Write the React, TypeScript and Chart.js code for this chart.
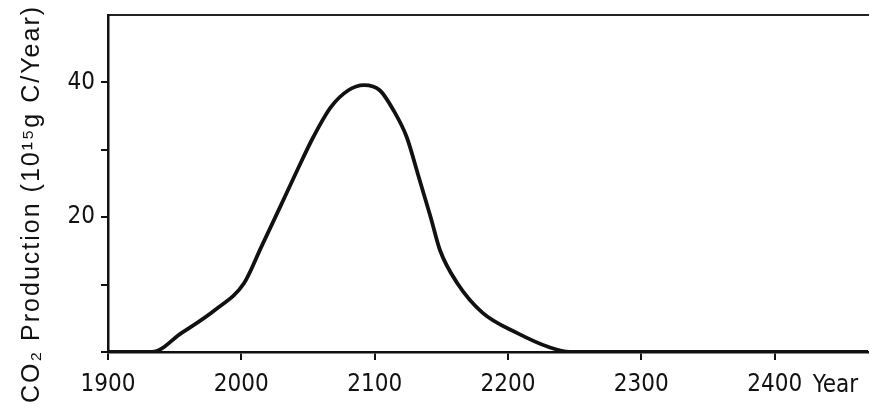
import React, { useEffect, useRef } from "react";
import { Chart, registerables } from "chart.js";

Chart.register(...registerables);

const years = [1900, 1933, 1955, 1980, 2002, 2015, 2030, 2042, 2054, 2067, 2080, 2092, 2104, 2114, 2124, 2133, 2142, 2149, 2162, 2181, 2207, 2231, 2246, 2470];
const production = [0, 0, 2.8, 6.2, 10.2, 15.6, 21.9, 27.0, 31.9, 36.3, 38.8, 39.6, 38.8, 35.9, 31.9, 26.0, 20.0, 15.1, 10.2, 5.8, 2.8, 0.7, 0, 0];
const xTickValues = [1900, 2000, 2100, 2200, 2300, 2400];
const yTickValues = [0, 10, 20, 30, 40];
const yLabelled = [20, 40];
const yTitle = "CO\u2082 Production (10\u00B9\u2075g C/Year)";
const xUnit = "Year";

const tickFont = { family: "'Liberation Sans Narrow', 'DejaVu Sans Condensed', sans-serif", size: 24 };

export default function App() {
  const ref = useRef<HTMLCanvasElement>(null);
  useEffect(() => {
    document.body.style.margin = "0";
    const canvas = ref.current!;
    const extras = {
      id: "extras",
      afterDraw(chart: any) {
        const ctx = chart.ctx;
        const xs = chart.scales.x;
        ctx.save();
        ctx.fillStyle = "#111";
        ctx.font = "24px 'Liberation Sans Narrow', 'DejaVu Sans Condensed', sans-serif";
        ctx.textAlign = "left";
        ctx.textBaseline = "middle";
        ctx.fillText(xUnit, xs.getPixelForValue(2400) + 38, 386);
        ctx.translate(32, 204);
        ctx.rotate(-Math.PI / 2);
        ctx.textAlign = "center";
        ctx.font = "25px 'Liberation Sans', sans-serif";
        (ctx as any).letterSpacing = "2px";
        ctx.fillText(yTitle, 0, 0);
        ctx.restore();
      },
    };
    const chart = new Chart(canvas, {
      type: "line",
      data: {
        datasets: [
          {
            data: years.map((y, i) => ({ x: y, y: production[i] })),
            borderColor: "#111",
            borderWidth: 3.8,
            pointRadius: 0,
            cubicInterpolationMode: "monotone",
            fill: false,
          },
        ],
      },
      options: {
        animation: false,
        responsive: false,
        maintainAspectRatio: false,
        layout: { padding: { left: 0, right: 2, top: 0, bottom: 0 } },
        plugins: { legend: { display: false }, tooltip: { enabled: false } },
        scales: {
          x: {
            type: "linear",
            min: 1900,
            max: 2470,
            position: "bottom",
            afterFit: (s: any) => { s.height = 56; },
            afterBuildTicks: (s: any) => { s.ticks = xTickValues.map((v) => ({ value: v })); },
            ticks: {
              color: "#111",
              font: tickFont,
              padding: 10,
              maxRotation: 0,
              callback: (v: any) => String(v),
            },
            grid: { drawOnChartArea: false, drawTicks: true, tickLength: 8, color: "#111", lineWidth: 2 },
            border: { display: true, color: "#111", width: 2.5 },
          },
          xTop: {
            type: "linear",
            min: 1900,
            max: 2470,
            position: "top",
            afterFit: (s: any) => { s.height = 15; },
            afterBuildTicks: (s: any) => { s.ticks = []; },
            ticks: { display: false },
            grid: { display: false, drawTicks: false },
            border: { display: true, color: "#222", width: 2 },
          },
          y: {
            min: 0,
            max: 50,
            afterFit: (s: any) => { s.width = 108; s.paddingTop = 0; s.paddingBottom = 0; },
            afterBuildTicks: (s: any) => { s.ticks = yTickValues.map((v) => ({ value: v })); },
            ticks: {
              color: "#111",
              font: tickFont,
              padding: 6,
              callback: (v: any) => (yLabelled.includes(v) ? String(v) : ""),
            },
            grid: { drawOnChartArea: false, drawTicks: true, tickLength: 7, color: "#111", lineWidth: 2 },
            border: { display: true, color: "#111", width: 2.5 },
          },
        },
      },
      plugins: [extras],
    } as any);
    return () => chart.destroy();
  }, []);
  return (
    <div style={{ width: 870, height: 408, background: "#fff" }}>
      <canvas ref={ref} width={870} height={408} style={{ display: "block" }} />
    </div>
  );
}
